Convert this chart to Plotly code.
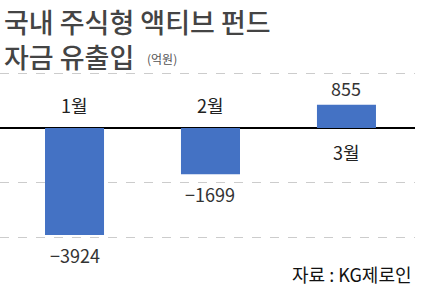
import plotly.graph_objects as go

categories = ["1월", "2월", "3월"]
values = [-3924, -1699, 855]
value_labels = ["−3924", "−1699", "855"]
title_line1 = "국내 주식형 액티브 펀드"
title_line2 = "자금 유출입"
unit_label = "(억원)"
source_label = "자료 : KG제로인"
grid_vals = [2000, 0, -2000, -4000]

W, H = 421, 290
FONT = "Noto Sans CJK KR"
NARROW = "Liberation Sans Narrow, Noto Sans CJK KR"

fig = go.Figure()
fig.add_trace(go.Bar(
    x=list(range(len(categories))), y=values,
    marker=dict(color="#4472c4", line=dict(width=0)),
    width=0.434, hoverinfo="skip",
))

annotations = []
for i, (c, v, lbl) in enumerate(zip(categories, values, value_labels)):
    neg = v < 0
    annotations.append(dict(
        x=i, y=0, xref="x", yref="y", text=c, showarrow=False,
        yanchor="middle", yshift=23 if neg else -24,
        font=dict(family=NARROW, size=18, color="#222"),
    ))
    annotations.append(dict(
        x=i, y=v, xref="x", yref="y", text=lbl, showarrow=False,
        yanchor="middle", yshift=-20 if neg else 17,
        font=dict(family=NARROW, size=18, color="#333"),
    ))

annotations += [
    dict(x=0, y=1, xref="paper", yref="paper", xanchor="left", yanchor="top",
         xshift=2, yshift=0, text=title_line1 + "<br>" + title_line2, showarrow=False,
         align="left",
         font=dict(family=FONT, size=27, color="#444444", weight=500)),
    dict(x=0, y=1 - 59 / H, xref="paper", yref="paper", xanchor="left", yanchor="middle",
         xshift=145, text=unit_label, showarrow=False,
         font=dict(family=FONT, size=12, color="#555")),
    dict(x=1, y=1 - 274 / H, xref="paper", yref="paper", xanchor="right", yanchor="middle",
         xshift=-1, text=source_label, showarrow=False,
         font=dict(family=FONT, size=18, color="#111")),
]

fig.update_layout(
    width=W, height=H,
    margin=dict(l=0, r=6, t=0, b=0),
    paper_bgcolor="white", plot_bgcolor="white",
    showlegend=False,
    annotations=annotations,
    xaxis=dict(range=[-0.548, 2.504], showticklabels=False, showgrid=False,
               zeroline=False, fixedrange=True),
    yaxis=dict(range=[-5940, 4694], tickvals=grid_vals, showticklabels=False,
               showgrid=True, gridcolor="#cccccc", griddash="dash", gridwidth=1,
               zeroline=True, zerolinecolor="#000000", zerolinewidth=1.5,
               fixedrange=True),
)

fig.write_html("out.html")
